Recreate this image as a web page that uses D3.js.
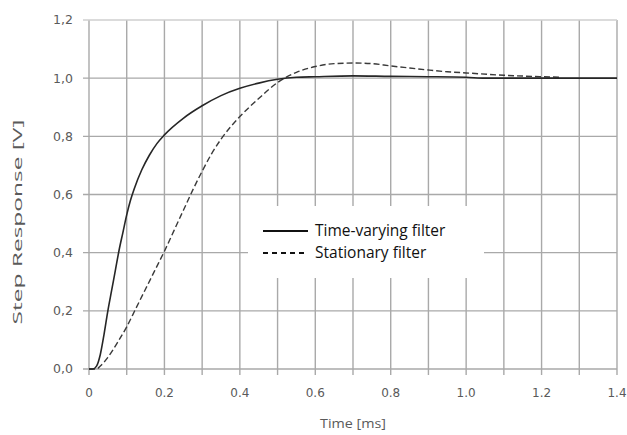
<!DOCTYPE html>
<html>
<head>
<meta charset="utf-8">
<script src="https://cdn.jsdelivr.net/npm/d3@7"></script>
<style>
  body { margin: 0; background: #fff; }
  svg { display: block; }
</style>
</head>
<body>
<div id="chart"></div>
<script>
// data (time in ms, response in V)
const varyingT = [0, 0.01, 0.02, 0.03, 0.04, 0.05, 0.06, 0.07, 0.08, 0.09, 0.10, 0.11, 0.12, 0.14, 0.16, 0.18, 0.20, 0.25, 0.30, 0.35, 0.40, 0.45, 0.50, 0.55, 0.60, 0.70, 0.80, 0.90, 1.00, 1.05, 1.10, 1.20, 1.30, 1.40];
const varyingV = [0, 0, 0.01, 0.05, 0.12, 0.20, 0.27, 0.34, 0.41, 0.47, 0.53, 0.58, 0.62, 0.685, 0.735, 0.775, 0.805, 0.862, 0.905, 0.94, 0.965, 0.983, 0.996, 1.003, 1.005, 1.008, 1.006, 1.005, 1.003, 1.0, 1.0, 1.0, 1.0, 1.0];

const stationaryT = [0, 0.02, 0.03, 0.05, 0.075, 0.10, 0.125, 0.15, 0.175, 0.20, 0.225, 0.25, 0.275, 0.30, 0.325, 0.35, 0.375, 0.40, 0.45, 0.50, 0.55, 0.60, 0.65, 0.70, 0.75, 0.80, 0.85, 0.90, 0.95, 1.00, 1.10, 1.20, 1.25];
const stationaryV = [0, 0, 0.01, 0.04, 0.09, 0.145, 0.21, 0.275, 0.34, 0.405, 0.475, 0.545, 0.615, 0.68, 0.74, 0.79, 0.832, 0.868, 0.93, 0.985, 1.02, 1.04, 1.05, 1.052, 1.05, 1.042, 1.035, 1.028, 1.022, 1.018, 1.01, 1.005, 1.003];

const xTicks = [0, 0.2, 0.4, 0.6, 0.8, 1.0, 1.2, 1.4];
const xTickLabels = ["0", "0.2", "0.4", "0.6", "0.8", "1.0", "1.2", "1.4"];
const xGrid = d3.range(0, 15).map(i => i / 10);
const yTicks = [0, 0.2, 0.4, 0.6, 0.8, 1.0, 1.2];
const yTickLabels = ["0,0", "0,2", "0,4", "0,6", "0,8", "1,0", "1,2"];

const seriesNames = ["Time-varying filter", "Stationary filter"];

// set the dimensions and margins of the graph
const margin = {top: 20, right: 10, bottom: 66, left: 89},
  width = 627 - margin.left - margin.right,
  height = 435 - margin.top - margin.bottom;

const svg = d3.select("#chart")
  .append("svg")
  .attr("width", 627)
  .attr("height", 435)
  .append("g")
  .attr("transform", `translate(${margin.left},${margin.top})`);

const x = d3.scaleLinear().domain([0, 1.4]).range([0, width]);
const y = d3.scaleLinear().domain([0, 1.2]).range([height, 0]);

const gridColor = "#a9a9a9";
const textColor = "#5a5a5a";

// vertical grid lines every 0.1 (they run a little past the axis as ticks)
svg.append("g")
  .selectAll("line")
  .data(xGrid)
  .join("line")
  .attr("x1", d => x(d)).attr("x2", d => x(d))
  .attr("y1", 0).attr("y2", height + 6)
  .attr("stroke", gridColor)
  .attr("stroke-width", 1.4);

// horizontal grid lines
svg.append("g")
  .selectAll("line")
  .data(yTicks)
  .join("line")
  .attr("x1", -6).attr("x2", width)
  .attr("y1", d => y(d)).attr("y2", d => y(d))
  .attr("stroke", d => d === 1.2 ? "#cfcfcf" : gridColor)
  .attr("stroke-width", 1.4);

// X axis labels
svg.append("g")
  .selectAll("text")
  .data(xTicks)
  .join("text")
  .attr("x", d => x(d))
  .attr("y", height + 28)
  .attr("text-anchor", "middle")
  .style("font-family", "DejaVu Sans")
  .style("font-size", "12px")
  .style("fill", textColor)
  .text((d, i) => xTickLabels[i]);

// Y axis labels
svg.append("g")
  .selectAll("text")
  .data(yTicks)
  .join("text")
  .attr("x", -16)
  .attr("y", d => y(d))
  .attr("dy", "0.35em")
  .attr("text-anchor", "end")
  .style("font-family", "DejaVu Sans")
  .style("font-size", "12.5px")
  .style("fill", textColor)
  .text((d, i) => yTickLabels[i]);

// axis titles (the picture has them a bit stretched)
svg.append("text")
  .attr("x", width / 2)
  .attr("y", height + 59)
  .attr("text-anchor", "middle")
  .attr("textLength", 66)
  .attr("lengthAdjust", "spacingAndGlyphs")
  .style("font-family", "Open Sans")
  .style("font-size", "13px")
  .style("fill", textColor)
  .text("Time [ms]");

svg.append("text")
  .attr("transform", "rotate(-90)")
  .attr("x", -(222 - margin.top))
  .attr("y", -67)
  .attr("text-anchor", "middle")
  .attr("textLength", 205)
  .attr("lengthAdjust", "spacingAndGlyphs")
  .style("font-family", "Open Sans")
  .style("font-size", "13px")
  .style("fill", textColor)
  .text("Step Response [V]");

// curves
const line = d3.line()
  .x(d => x(d[0]))
  .y(d => y(d[1]))
  .curve(d3.curveMonotoneX);

const varying = varyingT.map((t, i) => [t, varyingV[i]]);
const stationary = stationaryT.map((t, i) => [t, stationaryV[i]]);

svg.append("path")
  .datum(stationary)
  .attr("d", line)
  .attr("fill", "none")
  .attr("stroke", "#3a3a3a")
  .attr("stroke-width", 1.4)
  .attr("stroke-dasharray", "6,3");

svg.append("path")
  .datum(varying)
  .attr("d", line)
  .attr("fill", "none")
  .attr("stroke", "#262626")
  .attr("stroke-width", 1.6);

// legend box
const legend = svg.append("g")
  .attr("transform", `translate(${248 - margin.left},${206 - margin.top})`);

legend.append("rect")
  .attr("width", 236)
  .attr("height", 72)
  .attr("fill", "#fff");

seriesNames.forEach((name, i) => {
  const ly = 25 + i * 22;
  legend.append("line")
    .attr("x1", 15).attr("x2", 60)
    .attr("y1", ly).attr("y2", ly)
    .attr("stroke", "#111")
    .attr("stroke-width", 2)
    .attr("stroke-dasharray", i === 1 ? "5,4" : null);
  legend.append("text")
    .attr("x", 67)
    .attr("y", ly)
    .attr("dy", "0.35em")
    .style("font-family", "Open Sans")
    .style("font-size", "15.5px")
    .style("fill", "#111")
    .text(name);
});
</script>
</body>
</html>
